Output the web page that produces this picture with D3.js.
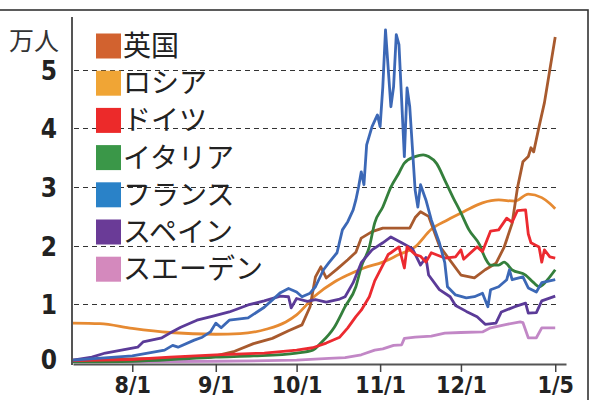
<!DOCTYPE html>
<html>
<head>
<meta charset="utf-8">
<script src="https://cdn.jsdelivr.net/npm/d3@7"></script>
<style>
  body { margin: 0; background: #fff; }
  .num { font-family: "Liberation Sans Narrow", "Arial Narrow", "DejaVu Sans Condensed", sans-serif; font-weight: bold; font-stretch: condensed; fill: #222; }
  .jp { font-family: "Noto Sans CJK JP", sans-serif; fill: #222; }
</style>
</head>
<body>
<div id="chart"></div>
<script>
// values in 万人 (10k people)
let uk = [["7/10",0.05],["8/1",0.07],["8/15",0.08],["8/30",0.1],["9/8",0.2],["9/15",0.33],["9/22",0.42],["9/28",0.55],["10/3",0.65],["10/6",0.96],
  ["10/8",1.47],["10/10",1.64],["10/12",1.45],["10/16",1.6],["10/20",1.76],["10/23",1.89],["10/25",2.13],["10/29",2.24],["11/2",2.3],["11/6",2.3],
  ["11/12",2.3],["11/14",2.48],["11/16",2.58],["11/19",2.5],["11/23",2.0],["11/26",1.81],["12/1",1.5],["12/6",1.45],["12/10",1.59],["12/14",1.7],
  ["12/17",1.97],["12/20",2.38],["12/22",2.99],["12/24",3.43],["12/26",3.52],["12/27",3.67],["12/28",3.6],["12/30",4.03],["1/1",4.44],["1/3",5.0],["1/5",5.56]];

let russia = [["7/10",0.68],["7/20",0.67],["8/1",0.59],["8/15",0.52],["9/1",0.49],["9/10",0.5],["9/20",0.58],["9/27",0.7],["10/1",0.82],["10/8",1.15],
  ["10/15",1.38],["10/20",1.5],["10/26",1.62],["11/2",1.72],["11/8",1.85],["11/14",1.98],["11/20",2.28],["11/26",2.44],["12/2",2.58],["12/9",2.73],
  ["12/15",2.78],["12/21",2.76],["12/26",2.88],["12/31",2.82],["1/3",2.72],["1/5",2.63]];

let germany = [["7/10",0.04],["8/1",0.06],["8/15",0.1],["9/1",0.14],["9/19",0.17],["10/1",0.22],["10/7",0.26],["10/12",0.34],["10/17",0.44],["10/20",0.6],
  ["10/23",0.79],["10/25",0.9],["10/28",1.13],["10/30",1.4],["11/2",1.67],["11/4",1.85],["11/5",1.88],["11/8",1.98],["11/10",1.62],["11/11",1.98],
  ["11/14",1.85],["11/16",1.82],["11/18",1.72],["11/20",1.88],["11/25",1.79],["11/29",1.81],["12/1",1.93],["12/2",1.77],["12/7",1.98],["12/9",1.9],
  ["12/12",2.25],["12/15",2.27],["12/18",2.47],["12/20",2.4],["12/22",2.6],["12/25",2.61],["12/26",2.2],["12/27",2.05],["12/30",1.98],["12/31",1.72],
  ["1/1",1.93],["1/3",1.81],["1/5",1.79]];

let italy = [["7/10",0.02],["8/1",0.03],["8/20",0.07],["9/1",0.1],["9/15",0.12],["10/1",0.17],["10/7",0.22],["10/10",0.34],["10/15",0.61],["10/19",0.96],
  ["10/23",1.3],["10/25",1.64],["10/28",1.98],["10/30",2.39],["11/2",2.66],["11/5",3.0],["11/8",3.24],["11/10",3.41],["11/14",3.52],["11/17",3.55],
  ["11/19",3.52],["11/22",3.4],["11/25",3.12],["11/28",2.83],["12/1",2.56],["12/4",2.27],["12/8",2.01],["12/10",1.79],["12/12",1.67],["12/15",1.67],
  ["12/17",1.72],["12/20",1.59],["12/25",1.5],["12/28",1.37],["12/30",1.3],["1/3",1.47],["1/5",1.59]];

let france = [["7/10",0.05],["8/1",0.12],["8/13",0.22],["8/16",0.3],["8/18",0.27],["8/24",0.39],["8/27",0.44],["8/30",0.53],["9/1",0.68],["9/3",0.6],
  ["9/6",0.73],["9/13",0.77],["9/19",0.95],["9/25",1.2],["9/28",1.27],["10/1",1.21],["10/3",1.13],["10/6",1.19],["10/8",1.3],["10/11",1.59],
  ["10/13",1.71],["10/16",1.88],["10/18",2.27],["10/20",2.41],["10/22",2.61],["10/23",2.78],["10/24",3.0],["10/25",3.26],["10/26",3.04],["10/27",3.72],
  ["10/29",4.03],["10/31",4.23],["11/1",4.03],["11/2",4.71],["11/3",5.68],["11/5",4.37],["11/6",4.71],["11/7",5.6],["11/8",5.43],["11/10",3.52],
  ["11/11",4.69],["11/12",4.37],["11/14",2.95],["11/15",2.66],["11/16",3.04],["11/18",2.78],["11/20",2.44],["11/23",2.05],["11/25",1.71],["11/26",1.3],
  ["11/29",1.16],["12/3",1.11],["12/6",1.13],["12/9",1.19],["12/11",0.96],["12/12",1.25],["12/15",1.3],["12/18",1.42],["12/19",1.59],["12/20",1.42],
  ["12/24",1.47],["12/26",1.28],["12/29",1.21],["12/31",1.37],["1/5",1.42]];

let spain = [["7/10",0.05],["7/17",0.1],["7/22",0.17],["7/28",0.22],["8/3",0.27],["8/5",0.36],["8/12",0.43],["8/15",0.51],["8/19",0.61],["8/25",0.73],
  ["8/31",0.8],["9/6",0.87],["9/13",0.99],["9/19",1.06],["9/25",1.14],["9/28",1.13],["9/29",0.94],["10/1",1.1],["10/5",1.05],["10/8",1.08],
  ["10/12",1.04],["10/17",1.09],["10/19",1.13],["10/22",1.37],["10/25",1.71],["10/29",1.93],["11/2",2.05],["11/5",2.15],["11/9",2.05],["11/13",1.95],
  ["11/16",1.67],["11/18",1.8],["11/19",1.5],["11/23",1.25],["11/27",1.13],["11/29",0.98],["12/3",0.88],["12/7",0.79],["12/10",0.66],["12/14",0.68],
  ["12/16",0.87],["12/21",0.96],["12/25",1.02],["12/26",0.85],["12/29",0.86],["12/31",1.06],["1/5",1.14]];

let sweden = [["7/10",0.03],["8/1",0.02],["9/1",0.03],["9/20",0.04],["10/1",0.05],["10/13",0.08],["10/19",0.09],["10/25",0.14],["10/30",0.22],["11/2",0.24],
  ["11/6",0.3],["11/9",0.31],["11/10",0.42],["11/14",0.44],["11/20",0.46],["11/25",0.51],["12/1",0.52],["12/9",0.53],["12/12",0.6],["12/18",0.66],
  ["12/23",0.7],["12/24",0.69],["12/26",0.43],["12/29",0.43],["12/31",0.6],["1/5",0.6]];

let names = ["英国", "ロシア", "ドイツ", "イタリア", "フランス", "スペイン", "スエーデン"];
let swatchColors = ["#d2622f", "#f0a535", "#ec2a2a", "#3a9748", "#2a82c8", "#6a3b97", "#d489bd"];
let lineColors = ["#a85a2e", "#e68a32", "#ec2a30", "#347f3c", "#3c68b6", "#5b3b98", "#c287c6"];
let seriesData = [uk, russia, germany, italy, france, spain, sweden];
let drawOrder = [6, 1, 0, 3, 5, 2, 4];

let yTicks = [0, 1, 2, 3, 4, 5];
let xTickDates = ["8/1", "9/1", "10/1", "11/1", "12/1", "1/5"];

function parseDay(s) {
  let [m, d] = s.split("/").map(Number);
  return new Date(m >= 7 ? 2020 : 2021, m - 1, d);
}

let svgWidth = 603, svgHeight = 400;
let svg = d3.select("#chart").append("svg")
  .attr("width", svgWidth)
  .attr("height", svgHeight);

// frame round the chart
svg.append("rect")
  .attr("x", -10).attr("y", 10)
  .attr("width", 598).attr("height", 420)
  .attr("fill", "none")
  .attr("stroke", "#333")
  .attr("stroke-width", 1.6);

let x = d3.scaleTime()
  .domain([parseDay("7/10"), parseDay("1/9")])
  .range([73, 566]);
let y = d3.scaleLinear()
  .domain([0, 5.9])
  .range([363, 17]);

// dashed grid
svg.append("g").selectAll("line")
  .data(yTicks.filter(d => d > 0))
  .enter().append("line")
  .attr("x1", 74).attr("x2", 558)
  .attr("y1", d => Math.round(y(d)) + 0.5)
  .attr("y2", d => Math.round(y(d)) + 0.5)
  .attr("stroke", "#333")
  .attr("stroke-width", 1)
  .attr("stroke-dasharray", "5,4");

// lines
let line = d3.line()
  .x(d => x(parseDay(d[0])))
  .y(d => y(d[1]));

drawOrder.forEach(i => {
  svg.append("path")
    .datum(seriesData[i])
    .attr("fill", "none")
    .attr("stroke", lineColors[i])
    .attr("stroke-width", 2.8)
    .attr("stroke-linejoin", "round")
    .attr("d", line.curve(i == 1 || i == 3 ? d3.curveMonotoneX : d3.curveLinear));
});

// axes
let yAxis = svg.append("g")
  .attr("transform", "translate(72,0)")
  .call(d3.axisLeft(y).tickValues(yTicks).tickSize(0).tickPadding(15).tickFormat(d3.format("d")));
yAxis.select(".domain").attr("stroke", "#555").attr("stroke-width", 2).attr("d", "M0,17V365");
yAxis.selectAll("text")
  .attr("class", "num")
  .style("font-size", "26px")
  .attr("dy", d => d == 0 ? "0.22em" : "0.36em");

let xAxis = svg.append("g")
  .attr("transform", "translate(0,364)")
  .call(d3.axisBottom(x)
    .tickValues(xTickDates.map(parseDay))
    .tickFormat((d, i) => xTickDates[i])
    .tickSize(8).tickSizeOuter(0).tickPadding(5));
xAxis.select(".domain").attr("stroke", "#555").attr("stroke-width", 2);
xAxis.selectAll(".tick line").attr("stroke", "#444").attr("stroke-width", 1.5);
xAxis.selectAll("text")
  .attr("class", "num")
  .style("font-size", "23px");

svg.append("text")
  .attr("class", "jp")
  .attr("x", 9).attr("y", 50)
  .style("font-size", "25px")
  .style("fill", "#333")
  .text("万人");

// legend
let legend = svg.append("g").selectAll("g")
  .data(names)
  .enter().append("g")
  .attr("transform", (d, i) => `translate(96,${46 + i * 37.2})`);
legend.append("rect")
  .attr("x", 0).attr("y", -12.5)
  .attr("width", 25).attr("height", 25)
  .attr("fill", (d, i) => swatchColors[i]);
legend.append("text")
  .attr("class", "jp")
  .attr("x", 27).attr("y", 0)
  .attr("dy", "0.36em")
  .style("font-size", "28px")
  .text(d => d);
</script>
</body>
</html>
